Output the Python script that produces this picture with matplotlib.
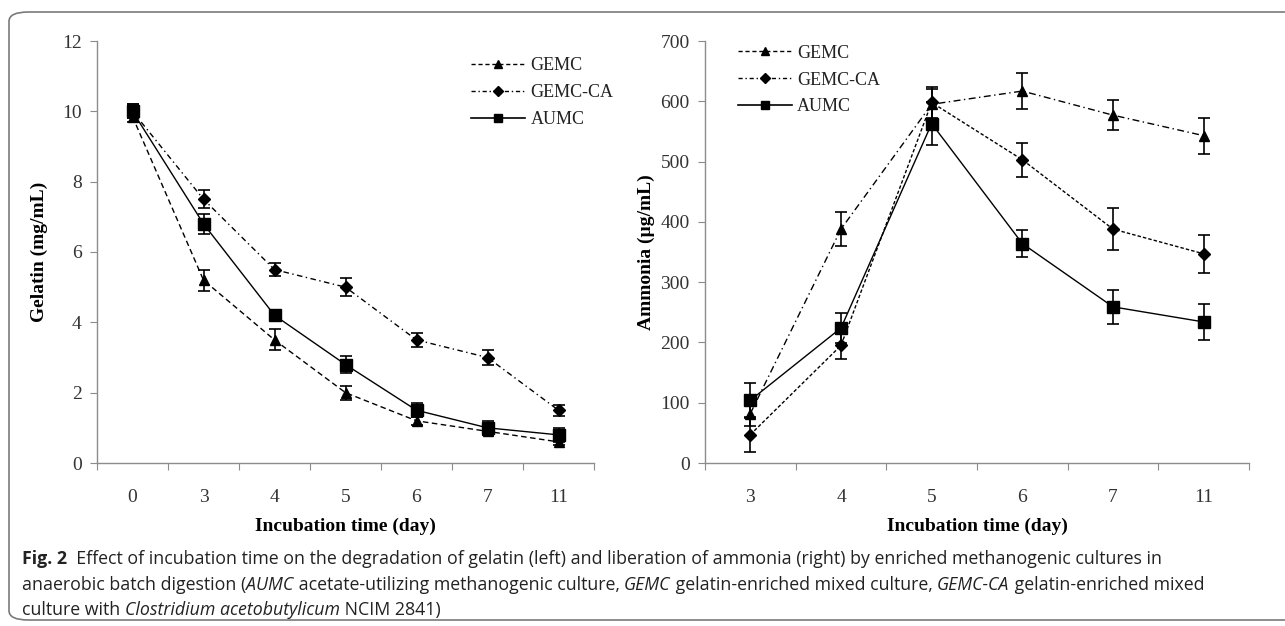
import matplotlib
matplotlib.use("Agg")
import matplotlib.pyplot as plt
from matplotlib.lines import Line2D
from matplotlib.patches import FancyBboxPatch

# Gelatina (painel esquerdo)
dias_gel = ['0', '3', '4', '5', '6', '7', '11']
gemc_gel = [9.85, 5.2, 3.5, 2.0, 1.2, 0.9, 0.6]
gemc_gel_err = [0.15, 0.3, 0.3, 0.2, 0.12, 0.1, 0.1]
gemcca_gel = [10.0, 7.5, 5.5, 5.0, 3.5, 3.0, 1.5]
gemcca_gel_err = [0.2, 0.25, 0.18, 0.25, 0.2, 0.2, 0.15]
aumc_gel = [10.0, 6.8, 4.2, 2.8, 1.5, 1.0, 0.8]
aumc_gel_err = [0.2, 0.28, 0.0, 0.25, 0.2, 0.2, 0.2]

# Amonia (painel direito)
dias_amo = ['3', '4', '5', '6', '7', '11']
tri_amo = [82, 388, 595, 617, 577, 543]
tri_amo_err = [20, 28, 25, 30, 25, 30]
dia_amo = [47, 195, 598, 503, 388, 347]
dia_amo_err = [28, 22, 25, 28, 35, 32]
sq_amo = [104, 224, 563, 364, 259, 234]
sq_amo_err = [28, 25, 35, 22, 28, 30]

serif = ['Liberation Serif', 'DejaVu Serif']
cor_eixo = '#8c8c8c'

fig = plt.figure(figsize=(12.85, 6.26), dpi=100)

# moldura arredondada
moldura = FancyBboxPatch((9 / 1285, 6 / 626), 1.05, 1 - 18 / 626,
                         boxstyle='round,pad=0,rounding_size=0.015',
                         transform=fig.transFigure, fill=False,
                         edgecolor='#7a7a7a', linewidth=1.2, clip_on=False)
fig.patches.append(moldura)


def estilo_eixo(ax, n, ymax, ystep):
    ax.set_xlim(0, n)
    ax.set_ylim(0, ymax)
    ax.set_yticks(range(0, ymax + 1, ystep))
    for s in ['top', 'right']:
        ax.spines[s].set_visible(False)
    for s in ['left', 'bottom']:
        ax.spines[s].set_color(cor_eixo)
        ax.spines[s].set_linewidth(1.0)
    ax.set_xticks(range(0, n + 1))
    ax.set_xticks([i + 0.5 for i in range(n)], minor=True)
    ax.tick_params(axis='x', which='major', length=5, color=cor_eixo, labelbottom=False)
    ax.tick_params(axis='x', which='minor', length=0, pad=19, labelsize=14)
    ax.tick_params(axis='y', length=5, color=cor_eixo, labelsize=14, pad=6)
    for t in ax.get_xticklabels(minor=True) + ax.get_yticklabels():
        t.set_family(serif)
        t.set_color('#333333')


def serie(ax, x, y, e, ls, mk, ms, dashes=None):
    linha, caps, barras = ax.errorbar(x, y, yerr=e, color='black', linestyle=ls, linewidth=1.0,
                                      marker=mk, markersize=ms, capsize=4, elinewidth=1.2,
                                      capthick=1.2, ecolor='black')
    if dashes is not None:
        linha.set_dashes(dashes)


def legenda(ax, loc_xy):
    h = [Line2D([], [], color='black', linestyle='--', dashes=(3, 2), marker='^', markersize=6, linewidth=1),
         Line2D([], [], color='black', linestyle='-.', dashes=(3, 2, 1, 2), marker='D', markersize=5, linewidth=1),
         Line2D([], [], color='black', linestyle='-', marker='s', markersize=6, linewidth=1.2)]
    leg = ax.legend(h, ['GEMC', 'GEMC-CA', 'AUMC'], loc='upper left', bbox_to_anchor=loc_xy,
                    frameon=False, handlelength=3.0, handletextpad=0.3, labelspacing=0.55,
                    prop={'family': serif, 'size': 13})
    for t in leg.get_texts():
        t.set_color('#222222')


# painel esquerdo
ax1 = fig.add_axes([97 / 1285, 1 - 463 / 626, 497 / 1285, 422 / 626])
xg = [i + 0.5 for i in range(len(dias_gel))]
serie(ax1, xg, gemc_gel, gemc_gel_err, '--', '^', 7, (4, 2.5))
serie(ax1, xg, gemcca_gel, gemcca_gel_err, '-.', 'D', 6, (4, 2.5, 1, 2.5))
serie(ax1, xg, aumc_gel, aumc_gel_err, '-', 's', 8)
estilo_eixo(ax1, len(dias_gel), 12, 2)
ax1.set_xticklabels(dias_gel, minor=True)
ax1.set_ylabel('Gelatin (mg/mL)', family=serif, fontsize=14, fontweight='bold', labelpad=10)
ax1.set_xlabel('Incubation time (day)', family=serif, fontsize=14, fontweight='bold', labelpad=8)
legenda(ax1, (0.72, 1.0))

# painel direito (legenda como no original)
ax2 = fig.add_axes([705 / 1285, 1 - 463 / 626, 544 / 1285, 422 / 626])
xa = [i + 0.5 for i in range(len(dias_amo))]
serie(ax2, xa, tri_amo, tri_amo_err, '-.', '^', 7, (5, 2.5, 1, 2.5))
serie(ax2, xa, dia_amo, dia_amo_err, '--', 'D', 6, (2.5, 1.5))
serie(ax2, xa, sq_amo, sq_amo_err, '-', 's', 8)
estilo_eixo(ax2, len(dias_amo), 700, 100)
ax2.set_xticklabels(dias_amo, minor=True)
ax2.set_ylabel('Ammonia (µg/mL)', family=serif, fontsize=14, fontweight='bold', labelpad=4)
ax2.set_xlabel('Incubation time (day)', family=serif, fontsize=14, fontweight='bold', labelpad=8)
legenda(ax2, (0.03, 1.03))

# legenda da figura, montada por partes
cap_font = ['Open Sans', 'DejaVu Sans']
linhas = [
    [('Fig. 2', 'bold', 'normal'),
     ('  Effect of incubation time on the degradation of gelatin (left) and liberation of ammonia (right) by enriched methanogenic cultures in', 'normal', 'normal')],
    [('anaerobic batch digestion (', 'normal', 'normal'), ('AUMC', 'normal', 'italic'),
     (' acetate-utilizing methanogenic culture, ', 'normal', 'normal'), ('GEMC', 'normal', 'italic'),
     (' gelatin-enriched mixed culture, ', 'normal', 'normal'), ('GEMC-CA', 'normal', 'italic'),
     (' gelatin-enriched mixed', 'normal', 'normal')],
    [('culture with ', 'normal', 'normal'), ('Clostridium acetobutylicum', 'normal', 'italic'),
     (' NCIM 2841)', 'normal', 'normal')],
]
fig.canvas.draw()
rend = fig.canvas.get_renderer()
y0 = 1 - 559 / 626
for k, partes in enumerate(linhas):
    x = 22 / 1285
    y = y0 - k * 25.5 / 626
    for txt, peso, estilo in partes:
        t = fig.text(x, y, txt, family=cap_font, fontsize=12.8, fontweight=peso, style=estilo,
                     color='#222222', va='center', ha='left')
        bb = t.get_window_extent(renderer=rend)
        x += bb.width / fig.bbox.width

fig.savefig('out.png', dpi=100)
